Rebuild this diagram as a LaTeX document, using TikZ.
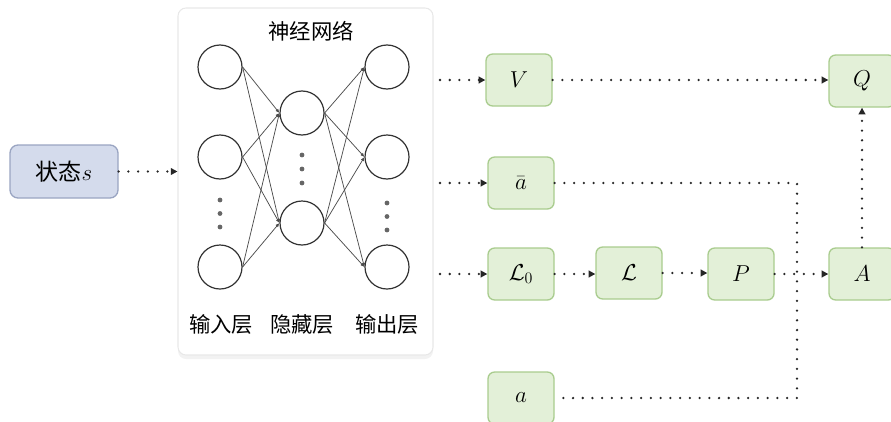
\documentclass[tikz,border=0pt]{standalone}
\usepackage{fontspec}
\newfontfamily\cjk{Noto Sans CJK SC}
\usetikzlibrary{arrows.meta,shadows}
\definecolor{gfill}{HTML}{E3F0D8}
\definecolor{gborder}{HTML}{A9CC8E}
\definecolor{bfill}{HTML}{D4DBEC}
\definecolor{bborder}{HTML}{9AA5C2}
\definecolor{pborder}{HTML}{E8E8E8}
\begin{document}
\begin{tikzpicture}[x=0.75pt,y=-0.75pt,
  gbox/.style={draw=gborder, fill=gfill, rounded corners=5pt, line width=1pt,
    minimum width=49.5pt, minimum height=39pt, inner sep=0pt,
    font=\fontsize{17.28pt}{19pt}\selectfont},
  bbox/.style={draw=bborder, fill=bfill, rounded corners=6pt, line width=1pt,
    minimum width=81pt, minimum height=39.75pt, inner sep=0pt,
    font=\fontsize{17.28pt}{19pt}\selectfont\cjk},
  panel/.style={draw=pborder, fill=white, rounded corners=6pt, line width=0.8pt,
    minimum width=191.25pt, minimum height=260.25pt, inner sep=0pt,
    drop shadow={shadow xshift=0pt, shadow yshift=-3pt, opacity=0.05, fill=black}},
  neuron/.style={draw=black!80, line width=0.9pt, circle, minimum size=33pt, inner sep=0pt},
  ndot/.style={fill=black!60, circle, minimum size=3.6pt, inner sep=0pt},
  lab/.style={font=\fontsize{16pt}{18pt}\selectfont\cjk, inner sep=0pt},
  syn/.style={draw=black!70, line width=0.55pt, -{Latex[length=3pt,width=2.6pt]}},
  dotline/.style={draw=black!85, line width=1.9pt, line cap=round, dash pattern=on 0pt off 7.3pt},
  darr/.style={dotline, -{Triangle[length=5pt,width=5pt]}}
]
\useasboundingbox (0,0) rectangle (891,421);

% state
\node[bbox] (s) at (64,171.5) {状态$s$};

% panel
\node[panel] (nn) at (305.5,181.5) {};
\node[lab] (title) at (311,31) {神经网络};

% neurons
\node[neuron] (i1) at (220,67) {};
\node[neuron] (i2) at (220,157) {};
\node[neuron] (i3) at (220,267) {};
\node[neuron] (h1) at (302,113) {};
\node[neuron] (h2) at (302,223) {};
\node[neuron] (o1) at (387,67) {};
\node[neuron] (o2) at (387,157) {};
\node[neuron] (o3) at (387,267) {};

\foreach \y in {200,213.5,227} \node[ndot] at (220,\y) {};
\foreach \y in {155,169,183} \node[ndot] at (302,\y) {};
\foreach \y in {203,216.5,230} \node[ndot] at (387,\y) {};

\foreach \i in {i1,i2,i3} \foreach \h in {h1,h2} \draw[syn] (\i.east) -- (\h.west);
\foreach \h in {h1,h2} \foreach \o in {o1,o2,o3} \draw[syn] (\h.east) -- (\o.west);

\node[lab] (l1) at (221,324) {输入层};
\node[lab] (l2) at (302,324) {隐藏层};
\node[lab] (l3) at (387,324) {输出层};

% green boxes
\node[gbox] (V) at (519,80) {$V$};
\node[gbox] (abar) at (521,183) {$\bar a$};
\node[gbox] (L0) at (521,274) {$\mathcal{L}_0$};
\node[gbox] (L) at (629,273) {$\mathcal{L}$};
\node[gbox] (P) at (741,274) {$P$};
\node[gbox] (A) at (862,274) {$A$};
\node[gbox] (Q) at (862,81) {$Q$};
\node[gbox] (a) at (521,398) {$a$};

% connectors
\coordinate (pV) at (440,80);
\coordinate (pa) at (440,183);
\coordinate (pL) at (440,274);
\coordinate (c1) at (797,183);
\coordinate (c2) at (797,398);

\draw[darr] (s.east) -- (s.east -| nn.west);
\draw[darr] (pV) -- (V.west);
\draw[darr] (pa) -- (abar.west);
\draw[darr] (pL) -- (L0.west);
\draw[darr] (V.east) -- (V.east -| Q.west);
\draw[darr] (L0.east) -- (L0.east -| L.west);
\draw[darr] (L.east) -- (L.east -| P.west);
\draw[darr] (P.east) -- (P.east -| A.west);
\draw[darr] (A.north) -- (Q.south);
\draw[dotline] (abar.east) -- (c1) -- (c2) -- (a.east);
\end{tikzpicture}
\end{document}
